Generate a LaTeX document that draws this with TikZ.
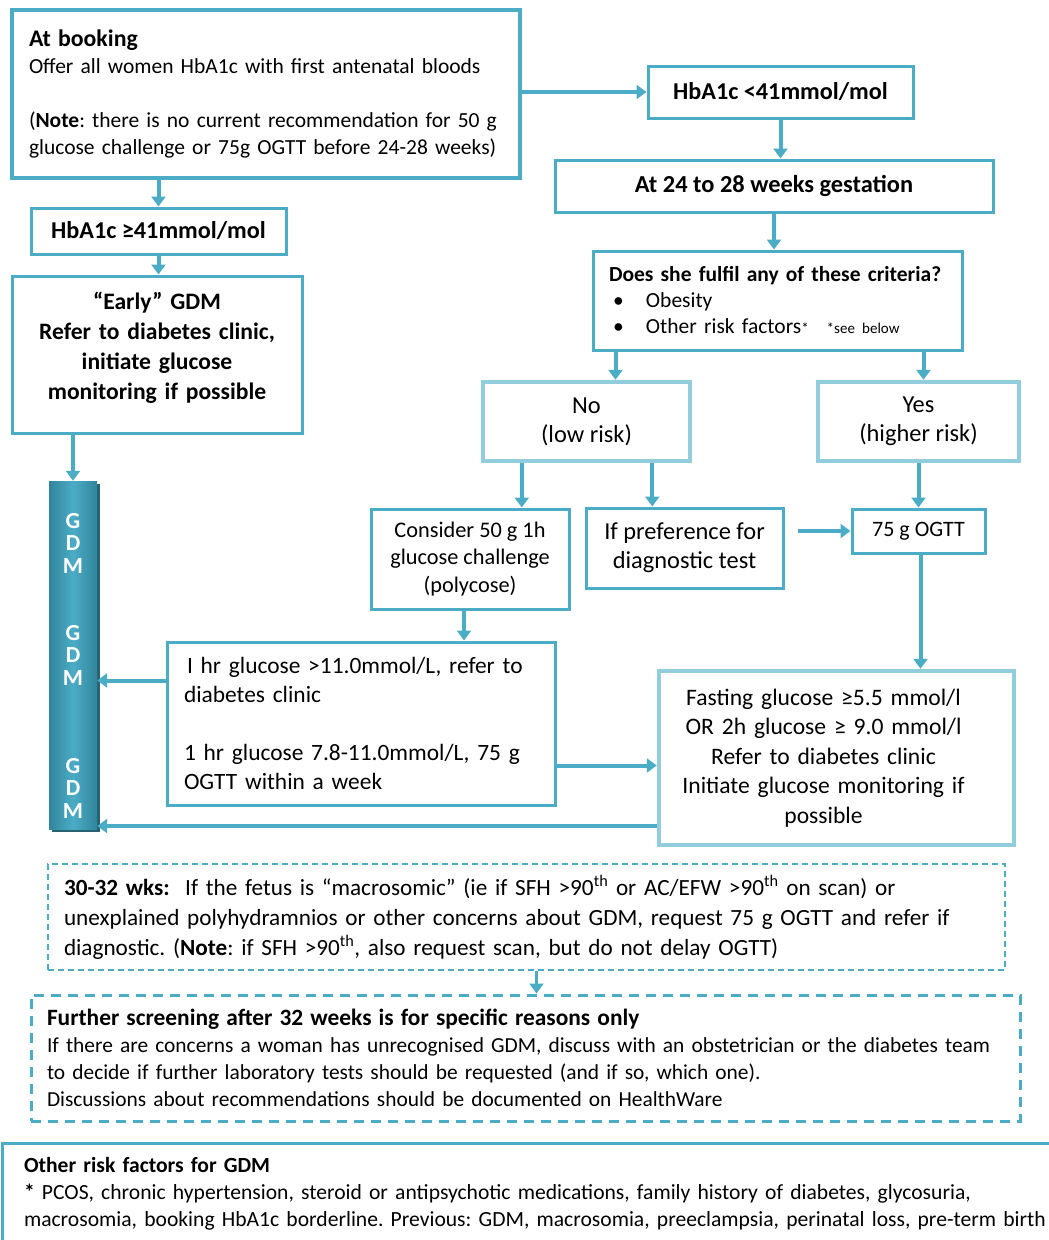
\documentclass[tikz,border=0pt]{standalone}
\usepackage{fontspec}
\setmainfont{Carlito}
\usepackage{tikz}
\usetikzlibrary{positioning}
\usetikzlibrary{arrows.meta}
\usetikzlibrary{shadows}
\definecolor{tealmain}{RGB}{75,172,198}
\definecolor{teallight}{RGB}{146,205,221}
\definecolor{tealdark}{RGB}{49,133,155}
\definecolor{tealshade}{RGB}{38,98,114}
\newcommand{\colora}{tealmain}
\newcommand{\colorb}{teallight}
\newcommand{\colorc}{tealdark}
\newcommand{\fsz}[2]{\fontsize{#1}{#2}\selectfont}
\frenchspacing
\tikzset{
  box/.style={draw=\colora, line width=3pt, fill=white, inner sep=0pt, font=\fsz{21.5}{27}},
  softbox/.style={box, draw=\colorb, line width=4.5pt},
  dashbox/.style={box, line width=2pt, dash pattern=on 6pt off 4pt},
  flow/.style={draw=\colora, line width=4pt, -{Triangle[length=10pt,width=14pt]}},
  gdmtext/.style={text=white, font=\fsz{23}{22.5}\bfseries, align=center, inner sep=0pt}
}

\begin{document}
\begin{tikzpicture}[x=1pt, y=-1pt]
  \useasboundingbox (0,0) rectangle (1049,1240);

  % left branch
  \node[box, line width=4.5pt, minimum width=508, minimum height=168, text width=474, align=left]
    (booking) at (266,94)
    {{\fsz{23.8}{27}\textbf{At booking}}\\
     Offer all women HbA1c with first antenatal bloods\\[27pt]
     (\textbf{Note}: there is no current recommendation for 50 g\\
     glucose challenge or 75g OGTT before 24-28 weeks)};
  \node[box, minimum width=255, minimum height=46, font=\fsz{24.2}{27}\bfseries] (high41) at (158.5,231) {HbA1c ≥41mmol/mol};
  \node[box, minimum width=290, minimum height=157, text width=270, align=center, font=\fsz{23.6}{30}\bfseries]
    (early) at (157,354.5)
    {“Early” GDM\\ Refer to diabetes clinic,\\ initiate glucose\\ monitoring if possible\\[-12pt]\mbox{}};

  \node[minimum width=48, minimum height=348, inner sep=0pt,
        left color=\colorc, right color=\colorc, middle color=\colora,
        drop shadow={shadow xshift=3pt, shadow yshift=-3pt, fill=tealshade, opacity=1}]
    (gdm) at (73,655) {};
  \node[gdmtext] (gdma) at ([yshift=112]gdm.center) {G\\D\\M};
  \node[gdmtext] (gdmb) at (gdm.center) {G\\D\\M};
  \node[gdmtext] (gdmc) at ([yshift=-133]gdm.center) {G\\D\\M};

  % right branch
  \node[box, minimum width=265, minimum height=52, font=\fsz{24.2}{27}\bfseries] (low41) at (780.5,92) {HbA1c <41mmol/mol};
  \node[box, minimum width=438, minimum height=52, font=\fsz{24.4}{27}\bfseries] (gest) at (774,186) {At 24 to 28 weeks gestation};
  \node[box, minimum width=369, minimum height=99, text width=337, align=left, font=\fsz{21.5}{26}]
    (criteria) at (777.5,300.5)
    {\textbf{Does she fulfil any of these criteria?}\\
     \makebox[37pt][l]{\hspace{4pt}\textbullet}Obesity\\
     \makebox[37pt][l]{\hspace{4pt}\textbullet}Other risk factors{\fsz{15}{15}*}\hspace{18pt}{\fsz{15}{15}*see below}};

  \node[softbox, minimum width=207, minimum height=79, align=center, font=\fsz{24.4}{29}]
    (no) at (586.5,421.5) {No\\ (low risk)};
  \node[softbox, minimum width=201, minimum height=79, align=center, font=\fsz{24.4}{29}]
    (yes) at (918.5,421.5) {Yes\\ (higher risk)};

  \node[box, minimum width=198, minimum height=100, align=center, font=\fsz{22.3}{27.5}]
    (consider) at (470,559) {Consider 50 g 1h\\ glucose challenge\\ (polycose)};
  \node[box, minimum width=197, minimum height=80, align=center, font=\fsz{24.4}{29}]
    (pref) at (684.5,548) {If preference for\\ diagnostic test};
  \node[box, minimum width=133, minimum height=44, font=\fsz{22}{27}] (ogtt) at (918.5,531) {75 g OGTT};

  \node[box, minimum width=388, minimum height=163, text width=354, align=left, font=\fsz{23.4}{29}]
    (glucose) at (361,723.5)
    {\hspace{3pt}I hr glucose >11.0mmol/L, refer to\\
     diabetes clinic\\[29pt]
     1 hr glucose 7.8-11.0mmol/L, 75 g\\
     OGTT within a week};
  \node[softbox, minimum width=355, minimum height=174, text width=320, align=center, font=\fsz{23.6}{29.5}]
    (fasting) at (836.5,758)
    {\hspace{-26pt}Fasting glucose ≥5.5 mmol/l\\
     \hspace{-26pt}OR 2h glucose ≥ 9.0 mmol/l\\
     \hspace{-26pt}Refer to diabetes clinic\\
     \hspace{-26pt}Initiate glucose monitoring if\\
     \hspace{-26pt}possible};

  % lower notes
  \node[dashbox, minimum width=957, minimum height=106, text width=925, align=left, font=\fsz{23.2}{30}]
    (wk30) at (526.5,917)
    {\textbf{30-32 wks:}\ \ If the fetus is “macrosomic” (ie if SFH >90\textsuperscript{th} or AC/EFW >90\textsuperscript{th} on scan) or\\
     unexplained polyhydramnios or other concerns about GDM, request 75 g OGTT and refer if\\
     diagnostic. (\textbf{Note}: if SFH >90\textsuperscript{th}, also request scan, but do not delay OGTT)};
  \node[dashbox, line width=3pt, dash pattern=on 10pt off 7pt, minimum width=989, minimum height=126, text width=957, align=left, font=\fsz{21.4}{27}]
    (further) at (525.5,1058)
    {{\fsz{23.4}{27}\textbf{Further screening after 32 weeks is for specific reasons only}}\\
     If there are concerns a woman has unrecognised GDM, discuss with an obstetrician or the diabetes team\\
     to decide if further laboratory tests should be requested (and if so, which one).\\
     Discussions about recommendations should be documented on HealthWare};
  \node[box, minimum width=1090, minimum height=102, text width=1046, align=left, font=\fsz{21.6}{27}]
    (risk) at (547,1194)
    {\textbf{Other risk factors for GDM}\\
     \textbf{*} PCOS, chronic hypertension, steroid or antipsychotic medications, family history of diabetes, glycosuria,\\
     macrosomia, booking HbA1c borderline. Previous: GDM, macrosomia, preeclampsia, perinatal loss, pre-term birth};

  % connectors
  \draw[flow] (booking.east |- low41.west) -- (low41.west);
  \draw[flow] (low41.south) -- (low41.south |- gest.north);
  \draw[flow] (gest.south) -- (gest.south |- criteria.north);
  \draw[flow] ([xshift=24]criteria.south west) -- ([xshift=24]criteria.south west |- no.north);
  \draw[flow] ([xshift=-40]criteria.south east) -- ([xshift=-40]criteria.south east |- yes.north);
  \draw[flow] ([xshift=41]no.south west) -- ([xshift=41]no.south west |- consider.north);
  \draw[flow] ([xshift=-40]no.south east) -- ([xshift=-40]no.south east |- pref.north);
  \draw[flow] (yes.south) -- (yes.south |- ogtt.north);
  \draw[flow] ([xshift=13]pref.east |- ogtt.west) -- (ogtt.west);
  \draw[flow] ([xshift=-6]consider.south) -- ([xshift=-6]consider.south |- glucose.north);
  \draw[flow] ([xshift=2]ogtt.south) -- ([xshift=2]ogtt.south |- fasting.north);
  \draw[flow] ([yshift=-42]glucose.east) -- ([yshift=-42]glucose.east -| fasting.west);
  \draw[flow] ([yshift=43]glucose.west) -- ([yshift=43]glucose.west -| gdm.east);
  \draw[flow] ([yshift=-68]fasting.west) -- ([yshift=-68]fasting.west -| gdm.east);

  \draw[flow] (high41.north |- booking.south) -- (high41.north);
  \draw[flow] (high41.south) -- (high41.south |- early.north);
  \draw[flow] (gdm.north |- early.south) -- (gdm.north);
  \draw[flow, line width=3pt] ([xshift=10]wk30.south) -- ([xshift=10]wk30.south |- further.north);

\end{tikzpicture}
\end{document}
